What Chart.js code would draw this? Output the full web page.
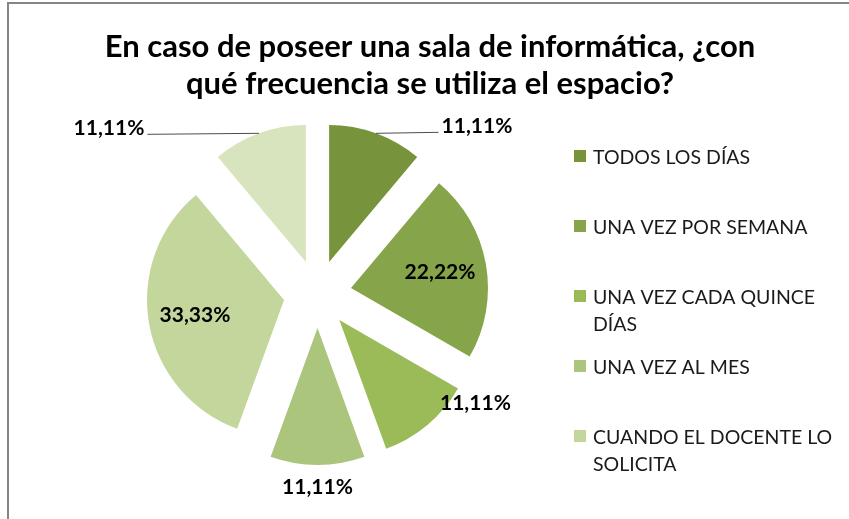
<!DOCTYPE html>
<html>
<head>
<meta charset="utf-8">
<script src="https://cdn.jsdelivr.net/npm/chart.js@4.4.1/dist/chart.umd.min.js"></script>
<style>
  html, body { margin: 0; padding: 0; background: #fff; }
  #wrap { width: 849px; height: 519px; position: relative; }
</style>
</head>
<body>
<div id="wrap"><canvas id="chart" width="849" height="519"></canvas></div>
<script>
// data
const categories = ['TODOS LOS DÍAS', 'UNA VEZ POR SEMANA', 'UNA VEZ CADA QUINCE DÍAS',
                    'UNA VEZ AL MES', 'CUANDO EL DOCENTE LO SOLICITA', 'NUNCA'];
const shares = [11.11, 22.22, 11.11, 11.11, 33.33, 11.11]; // %
const titleLines = ['En caso de poseer una sala de informática, ¿con',
                    'qué frecuencia se utiliza el espacio?'];

// styles
const colors = ['#77933c', '#86a44a', '#9bbb59', '#abc57c', '#c3d69b', '#d7e4bd'];
const explode = 34;      // px each slice is pulled out
const legendShown = 5;   // only the first five entries fit the legend
// label shift from the slice's outer edge, null = inside the slice
const labelNudge = [[101, -7], null, [48, -22], [0, 22], null, [-150, -5]];
const leaderLine = [true, false, false, false, false, true];

const fontFam = 'Lato, "Open Sans", sans-serif';

// gray frame on top and left
const frame = {
  id: 'frame',
  beforeDraw(chart) {
    const ctx = chart.ctx;
    ctx.save();
    ctx.strokeStyle = '#868686';
    ctx.lineWidth = 2;
    ctx.beginPath();
    ctx.moveTo(8, chart.height);
    ctx.lineTo(8, 3);
    ctx.lineTo(chart.width, 3);
    ctx.stroke();
    ctx.restore();
  }
};

// pulled-out slices: draw each arc shifted along its middle angle
const exploded = {
  id: 'exploded',
  beforeDatasetDraw(chart, args) {
    const ctx = chart.ctx;
    args.meta.data.forEach((arc) => {
      const mid = (arc.startAngle + arc.endAngle) / 2;
      ctx.save();
      ctx.translate(Math.cos(mid) * explode, Math.sin(mid) * explode);
      arc.draw(ctx);
      ctx.restore();
    });
    return false;
  }
};

// percentage labels (+ leader lines for the two top ones)
const sliceLabels = {
  id: 'sliceLabels',
  afterDatasetsDraw(chart) {
    const ctx = chart.ctx;
    const meta = chart.getDatasetMeta(0);
    ctx.save();
    ctx.font = 'bold 21px ' + fontFam;
    ctx.fillStyle = '#000';
    ctx.textAlign = 'center';
    ctx.textBaseline = 'middle';
    meta.data.forEach((arc, i) => {
      const mid = (arc.startAngle + arc.endAngle) / 2;
      const cos = Math.cos(mid), sin = Math.sin(mid);
      const text = shares[i].toFixed(2).replace('.', ',') + '%';
      const n = labelNudge[i];
      let lx, ly;
      if (!n) {
        const d = explode + arc.outerRadius * 0.66;
        lx = arc.x + cos * d;
        ly = arc.y + sin * d;
      } else {
        const ex = arc.x + cos * (explode + arc.outerRadius);
        const ey = arc.y + sin * (explode + arc.outerRadius);
        lx = ex + n[0];
        ly = ey + n[1];
        if (leaderLine[i]) {
          const w = ctx.measureText(text).width;
          const tx = lx + (n[0] > 0 ? -w / 2 - 3 : w / 2 + 3);
          ctx.beginPath();
          ctx.moveTo(ex, ey);
          ctx.lineTo(tx, ly + 6);
          ctx.strokeStyle = '#4d4d4d';
          ctx.lineWidth = 1;
          ctx.stroke();
        }
      }
      ctx.fillText(text, lx, ly);
    });
    ctx.restore();
  }
};

// split a label into lines no wider than maxW
function wrap(ctx, text, maxW) {
  const words = text.split(' ');
  const lines = [];
  let cur = '';
  words.forEach(w => {
    const t = cur ? cur + ' ' + w : w;
    if (cur && ctx.measureText(t).width > maxW) {
      lines.push(cur);
      cur = w;
    } else {
      cur = t;
    }
  });
  lines.push(cur);
  return lines;
}

// legend as a layout box on the right
const sideLegend = {
  id: 'sideLegend',
  beforeInit(chart) {
    const box = {
      position: 'right',
      weight: 10,
      fullSize: false,
      options: {},
      left: 0, top: 0, right: 0, bottom: 0, width: 0, height: 0,
      isHorizontal() { return false; },
      update(maxWidth, maxHeight) {
        this.width = 225;
        this.height = maxHeight;
      },
      draw() {
        const ctx = chart.ctx;
        ctx.save();
        ctx.font = '19.5px ' + fontFam;
        ctx.textBaseline = 'middle';
        ctx.textAlign = 'left';
        const pitch = 70, lineH = 27;
        for (let i = 0; i < legendShown; i++) {
          const y = this.top + 45.5 + i * pitch;
          ctx.fillStyle = colors[i];
          ctx.fillRect(this.left, y - 8, 12, 12);
          ctx.fillStyle = '#1a1a1a';
          wrap(ctx, categories[i], 252).forEach((line, k) => {
            ctx.fillText(line, this.left + 19, y + k * lineH);
          });
        }
        ctx.restore();
      }
    };
    Chart.layouts.addBox(chart, box);
  }
};

const config = {
  type: 'pie',
  data: {
    labels: categories,
    datasets: [{
      data: shares,
      backgroundColor: colors,
      borderWidth: 0,
      radius: 137
    }]
  },
  options: {
    responsive: false,
    animation: false,
    events: [],
    layout: { padding: { left: 61, right: 50, top: 0, bottom: 43.5 } },
    plugins: {
      legend: { display: false },
      tooltip: { enabled: false },
      title: {
        display: true,
        text: titleLines,
        color: '#000',
        font: { family: fontFam, size: 31, weight: 'bold', lineHeight: 37 / 31 },
        padding: { top: 28.5, bottom: 10 }
      }
    }
  },
  plugins: [frame, exploded, sliceLabels, sideLegend]
};

new Chart(document.getElementById('chart'), config);
</script>
</body>
</html>
